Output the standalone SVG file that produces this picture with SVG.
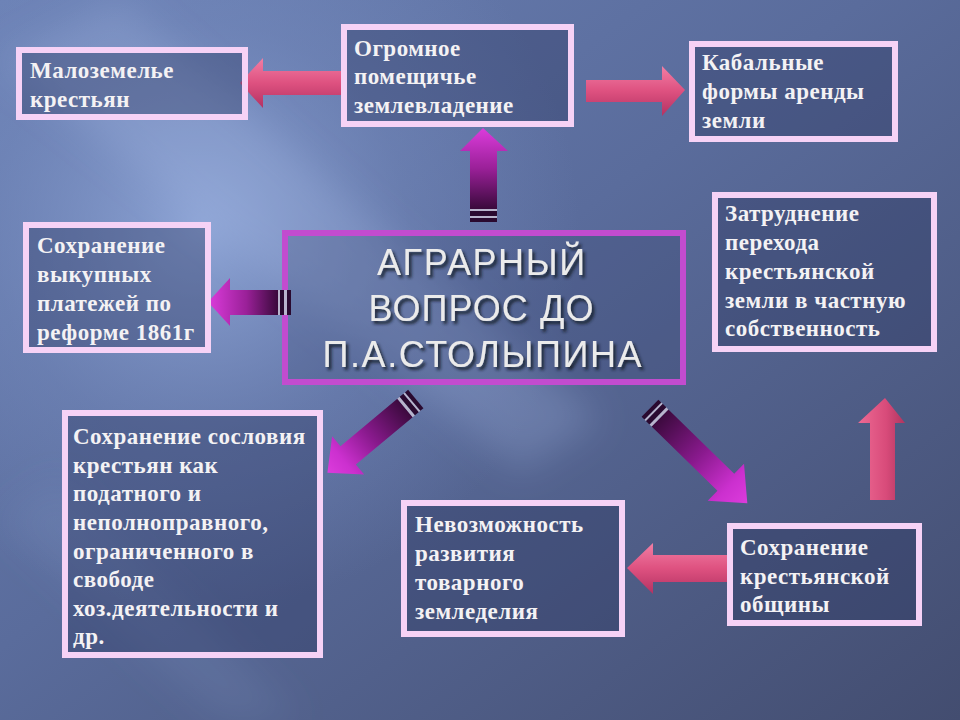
<svg xmlns="http://www.w3.org/2000/svg" width="960" height="720" viewBox="0 0 960 720">
<defs>
<linearGradient id="bg" x1="0" y1="0" x2="1" y2="1">
<stop offset="0" stop-color="#6a80b4"/>
<stop offset="0.45" stop-color="#5a6c9c"/>
<stop offset="1" stop-color="#434d70"/>
</linearGradient>
<radialGradient id="hl" cx="200" cy="230" r="380" gradientUnits="userSpaceOnUse">
<stop offset="0" stop-color="#93aadb" stop-opacity="0.9"/>
<stop offset="0.55" stop-color="#7d93c6" stop-opacity="0.35"/>
<stop offset="1" stop-color="#7d93c6" stop-opacity="0"/>
</radialGradient>
<filter id="blur" x="-20%" y="-20%" width="140%" height="140%"><feGaussianBlur stdDeviation="18"/></filter>
<filter id="tsh" x="-10%" y="-30%" width="120%" height="160%"><feDropShadow dx="2.5" dy="3" stdDeviation="1.5" flood-color="#151a2c" flood-opacity="0.9"/></filter>
<linearGradient id="pinkH" x1="0" y1="0" x2="0" y2="1">
<stop offset="0" stop-color="#f27ea4"/>
<stop offset="0.5" stop-color="#de5180"/>
<stop offset="1" stop-color="#b33262"/>
</linearGradient>
<linearGradient id="pinkV" x1="0" y1="0" x2="1" y2="0">
<stop offset="0" stop-color="#ee6a94"/>
<stop offset="0.6" stop-color="#d84b7a"/>
<stop offset="1" stop-color="#b0355f"/>
</linearGradient>
<linearGradient id="magTipRight" x1="0" y1="0" x2="1" y2="0">
<stop offset="0" stop-color="#3c0a3e"/>
<stop offset="0.45" stop-color="#8a1a8e"/>
<stop offset="0.8" stop-color="#cc30cf"/>
<stop offset="1" stop-color="#dc3cdc"/>
</linearGradient>
<linearGradient id="magUp" x1="0" y1="1" x2="0" y2="0">
<stop offset="0" stop-color="#3a0a3c"/>
<stop offset="0.5" stop-color="#9a2098"/>
<stop offset="1" stop-color="#dc3cdc"/>
</linearGradient>
<linearGradient id="magLeft" x1="1" y1="0" x2="0" y2="0">
<stop offset="0" stop-color="#3a0a3c"/>
<stop offset="0.45" stop-color="#9a2098"/>
<stop offset="1" stop-color="#dc3cdc"/>
</linearGradient>
<style>
.box{fill:#2c3760;fill-opacity:0.38;stroke:#f6d2f6;stroke-width:6}
.cbox{fill:#34406a;fill-opacity:0.25;stroke:#c24ccf;stroke-width:6}
.t{font-family:"Liberation Serif","DejaVu Serif",serif;font-weight:bold;font-size:23px;letter-spacing:0.5px;fill:#f4f2f4}
.title{font-family:"Liberation Sans","DejaVu Sans",sans-serif;font-size:36px;fill:#ebebeb;text-anchor:middle}
.dk{fill:#2a0a30}
.lt{fill:#b8b4cc}
</style>
</defs>

<!-- background -->
<rect x="0" y="0" width="960" height="720" fill="url(#bg)"/>
<rect x="0" y="0" width="960" height="720" fill="url(#hl)"/>
<polygon points="0,60 120,0 600,420 520,470" fill="#a8bce6" fill-opacity="0.25" filter="url(#blur)"/>
<polygon points="0,520 60,480 300,720 220,720" fill="#8fa3d2" fill-opacity="0.15" filter="url(#blur)"/>

<!-- connectors -->
<g id="connectors">
<polygon points="341,71 263,71 263,58 240,83 263,108 263,95 341,95" fill="url(#pinkH)"/>
<polygon points="586,80 662,80 662,66 685,90 662,116 662,102 586,102" fill="url(#pinkH)"/>
<polygon points="470,209 470,151 460,151 483,128 508,151 497,151 497,209" fill="url(#magUp)"/>
<rect x="470" y="209" width="27" height="2" class="lt"/>
<rect x="470" y="211" width="27" height="5" class="dk"/>
<rect x="470" y="216" width="27" height="2" class="lt"/>
<rect x="470" y="218" width="27" height="4" class="dk"/>
<polygon points="278,290 230,290 230,278 208,302 230,326 230,315 278,315" fill="url(#magLeft)"/>
<g transform="translate(405,408) rotate(140.2)">
<polygon points="0,-12 74,-12 74,-25 101,0 74,25 74,12 0,12" fill="url(#magTipRight)"/>
<rect x="-3" y="-12" width="3" height="24" class="lt"/>
<rect x="-8" y="-12" width="5" height="24" class="dk"/>
<rect x="-10" y="-12" width="2" height="24" class="lt"/>
<rect x="-14" y="-12" width="4" height="24" class="dk"/>
</g>
<g transform="translate(660,418) rotate(44.3)">
<polygon points="0,-12 92,-12 92,-26 122,0 92,26 92,12 0,12" fill="url(#magTipRight)"/>
<rect x="-3" y="-12" width="3" height="24" class="lt"/>
<rect x="-8" y="-12" width="5" height="24" class="dk"/>
<rect x="-10" y="-12" width="2" height="24" class="lt"/>
<rect x="-14" y="-12" width="4" height="24" class="dk"/>
</g>
<polygon points="727,555 653,555 653,543 627,568 653,594 653,582 727,582" fill="url(#pinkH)"/>
<polygon points="870,500 870,423 858,423 885,398 905,423 895,423 895,500" fill="url(#pinkV)"/>
</g>

<!-- nodes -->
<g id="n-malozemelie">
<rect x="19" y="50" width="226" height="67" class="box"/>
<text class="t" x="30" y="78">Малоземелье</text>
<text class="t" x="30" y="107">крестьян</text>
</g>

<g id="n-ogromnoe">
<rect x="344" y="27" width="227" height="97" class="box"/>
<text class="t" x="354" y="56">Огромное</text>
<text class="t" x="354" y="84">помещичье</text>
<text class="t" x="354" y="113">землевладение</text>
</g>

<g id="n-kabalnye">
<rect x="692" y="44" width="203" height="95" class="box"/>
<text class="t" x="702" y="70">Кабальные</text>
<text class="t" x="702" y="99">формы аренды</text>
<text class="t" x="702" y="128">земли</text>
</g>

<g id="n-zatrudnenie">
<rect x="715" y="195" width="219" height="154" class="box"/>
<text class="t" x="725" y="221">Затруднение</text>
<text class="t" x="725" y="250">перехода</text>
<text class="t" x="725" y="279">крестьянской</text>
<text class="t" x="725" y="308">земли в частную</text>
<text class="t" x="725" y="336">собственность</text>
</g>

<g id="n-vykupnye">
<rect x="26" y="225" width="182" height="125" class="box"/>
<text class="t" x="37" y="253">Сохранение</text>
<text class="t" x="37" y="282">выкупных</text>
<text class="t" x="37" y="311">платежей по</text>
<text class="t" x="37" y="340">реформе 1861г</text>
</g>

<g id="n-center">
<rect x="285" y="233" width="398" height="149" class="cbox"/>
<g filter="url(#tsh)">
<text class="title" x="481" y="275" textLength="208" lengthAdjust="spacing">АГРАРНЫЙ</text>
<text class="title" x="481" y="321" textLength="225" lengthAdjust="spacing">ВОПРОС ДО</text>
<text class="title" x="482" y="367" textLength="319" lengthAdjust="spacing">П.А.СТОЛЫПИНА</text>
</g>
</g>

<g id="n-soslovie">
<rect x="65" y="413" width="255" height="242" class="box"/>
<text class="t" x="73" y="444">Сохранение сословия</text>
<text class="t" x="73" y="473">крестьян как</text>
<text class="t" x="73" y="501">податного и</text>
<text class="t" x="73" y="530">неполноправного,</text>
<text class="t" x="73" y="559">ограниченного в</text>
<text class="t" x="73" y="587">свободе</text>
<text class="t" x="73" y="616">хоз.деятельности и</text>
<text class="t" x="73" y="644">др.</text>
</g>

<g id="n-nevozmozhnost">
<rect x="404" y="503" width="218" height="131" class="box"/>
<text class="t" x="415" y="532">Невозможность</text>
<text class="t" x="415" y="561">развития</text>
<text class="t" x="415" y="590">товарного</text>
<text class="t" x="415" y="619">земледелия</text>
</g>

<g id="n-obshchina">
<rect x="730" y="526" width="189" height="97" class="box"/>
<text class="t" x="740" y="555">Сохранение</text>
<text class="t" x="740" y="584">крестьянской</text>
<text class="t" x="740" y="612">общины</text>
</g>

<g id="stripes-left">
<rect x="278" y="290" width="2" height="25" class="lt"/>
<rect x="280" y="290" width="4" height="25" class="dk"/>
<rect x="284" y="290" width="3" height="25" class="lt"/>
<rect x="287" y="290" width="4" height="25" class="dk"/>
</g>
</svg>
